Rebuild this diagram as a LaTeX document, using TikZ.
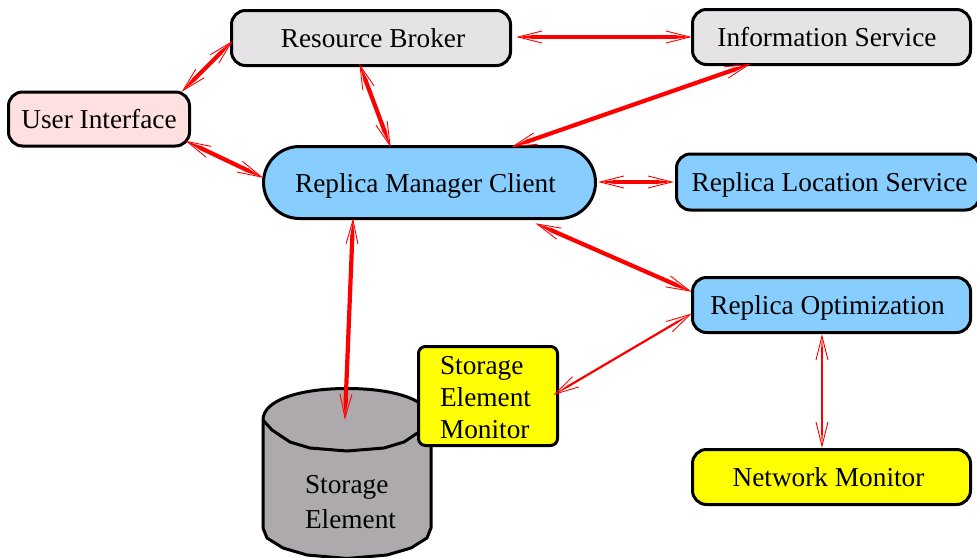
\documentclass[tikz,border=0pt]{standalone}
\usepackage{fontspec}
\setmainfont{Liberation Serif}
\usetikzlibrary{calc,arrows.meta}
\definecolor{greybox}{HTML}{E6E3E6}
\definecolor{pinkbox}{HTML}{FFE0E0}
\definecolor{bluebox}{HTML}{87CEFF}
\definecolor{drumgrey}{HTML}{ADA9AD}
\definecolor{yellowbox}{HTML}{FFFF00}
\definecolor{linkred}{HTML}{FF0000}
\pgfdeclarearrow{
  name=FigOpen,
  parameters={\the\pgflinewidth},
  setup code={
    \pgfarrowssettipend{0pt}
    \pgfarrowssetlineend{-15pt}
    \pgfarrowssetbackend{-24pt}
    \pgfarrowssetvisualbackend{-24pt}
    \pgfarrowshullpoint{0pt}{0pt}
    \pgfarrowshullpoint{-24pt}{7pt}
    \pgfarrowshullpoint{-24pt}{-7pt}
  },
  drawing code={
    \pgfpathmoveto{\pgfqpoint{-16pt}{0.5\pgflinewidth}}
    \pgfpathlineto{\pgfqpoint{0pt}{0pt}}
    \pgfpathlineto{\pgfqpoint{-16pt}{-0.5\pgflinewidth}}
    \pgfpathclose
    \pgfusepathqfill
    \pgfsetlinewidth{0.9pt}
    \pgfsetmiterjoin
    \pgfpathmoveto{\pgfqpoint{-24pt}{6pt}}
    \pgfpathlineto{\pgfqpoint{0pt}{0pt}}
    \pgfpathlineto{\pgfqpoint{-24pt}{-6pt}}
    \pgfusepathqstroke
  }
}
\tikzset{
  x=1pt,y=-1pt,
  boxbase/.style={draw=black,line width=3pt,rounded corners=14pt,inner sep=0pt,outer sep=0pt,
    font=\fontsize{27.3}{32}\selectfont},
  box/.style={boxbase,text height=19pt,text depth=0pt},
  link/.style={draw=linkred,line width=4.2pt,{FigOpen}-{FigOpen}},
  thinlink/.style={draw=linkred,line width=2.2pt,{FigOpen}-{FigOpen}},
  drum/.style={draw=black,line width=3pt,fill=drumgrey,line join=round},
  plain/.style={inner sep=0pt,outer sep=0pt,font=\fontsize{27.3}{35}\selectfont,align=left,text width=90pt}
}
\begin{document}
\begin{tikzpicture}
\useasboundingbox (0,0) rectangle (977,557);
% storage drum
\draw[drum] (263,420) -- (263,528) -- (267,538) -- (283,548) -- (307,555) -- (347,558.5) -- (387,555) -- (411,548) -- (427,538) -- (431,528) -- (431,420) .. controls (431,400) and (394,388.5) .. (347,388.5) .. controls (300,388.5) and (263,400) .. (263,420) -- cycle;
\draw[drum,fill=none] (263,420) -- (272,430) -- (290,442) -- (310,448) -- (347,451) -- (384,448) -- (404,442) -- (422,430) -- (431,420);
\node[plain] (se) at (350,502) {Storage\\Element};
\coordinate (setop) at (345,418);
% boxes
\node[box,fill=pinkbox,minimum width=181pt,minimum height=54pt] (ui) at (99,119) {User Interface};
\node[box,fill=greybox,minimum width=279pt,minimum height=55pt] (rb) at (371,38) {\kern4pt Resource Broker};
\node[box,fill=greybox,minimum width=278pt,minimum height=55pt] (is) at (831.5,37) {\kern-9pt Information Service};
\node[box,fill=bluebox,minimum width=332pt,minimum height=72pt,rounded corners=36pt] (rmc) at (429.5,182.5) {\kern-8pt Replica Manager Client};
\node[box,fill=bluebox,minimum width=303pt,minimum height=56pt] (rls) at (828,182) {\kern3pt Replica Location Service};
\node[box,fill=bluebox,minimum width=278pt,minimum height=55pt] (ro) at (831.5,305) {\kern-8pt Replica Optimization};
\node[box,fill=yellowbox,minimum width=278pt,minimum height=55pt] (nm) at (831.5,477) {\kern-6pt Network Monitor};
\node[boxbase,fill=yellowbox,minimum width=139pt,minimum height=99pt,rounded corners=7pt,align=left,text width=96pt] (sem) at (488,396) {\rule{0pt}{22pt}Storage\\Element\\Monitor};
% connectors
\draw[link] ($(ui.north east)+(-6.5,-1.5)$) -- ($(rb.west)+(0,4)$);
\draw[link] ($(rb.south)+(-11,0)$) -- ($(rmc.north)+(-39.5,-1)$);
\draw[link] ($(ui.south east)+(-2.5,-4.5)$) -- ($(rmc.west)+(-2,-5.5)$);
\draw[link] ($(rb.east)+(7.5,-1)$) -- ($(is.west)+(-2.5,0)$);
\draw[link] ($(is.south)+(-82.5,0)$) -- ($(rmc.north)+(83.5,0)$);
\draw[link] ($(rmc.east)+(4.5,-.5)$) -- ($(rls.west)+(-4.5,0)$);
\draw[link] ($(rmc.south)+(107.5,5.5)$) -- ($(ro.west)+(-2.5,-14)$);
\draw[link] ($(rmc.south)+(-76.5,1.5)$) -- (setop);
\draw[thinlink] ($(sem.east)+(-2.5,-2)$) -- ($(ro.west)+(-2.5,9.5)$);
\draw[thinlink] ($(ro.south)+(-9.5,3.5)$) -- ($(nm.north)+(-9.5,-3.5)$);
\end{tikzpicture}
\end{document}
